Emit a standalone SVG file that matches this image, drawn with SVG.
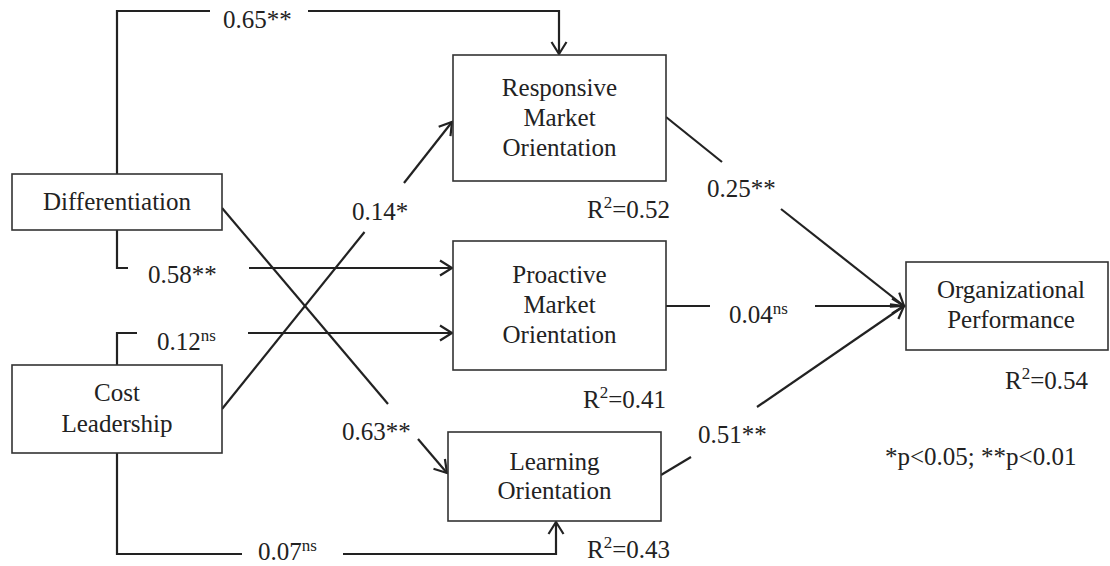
<svg xmlns="http://www.w3.org/2000/svg" width="1110" height="566" viewBox="0 0 1110 566">
<style>
  .box{fill:#fff;stroke:#333;stroke-width:1.6}
  .t{font-family:"Liberation Serif","Times New Roman",serif;font-size:25px;fill:#222}
  .c{text-anchor:middle}
  .ln{fill:none;stroke:#222;stroke-width:2.2}
  .sup{font-size:17px}
</style>
<defs>
  <marker id="ah" markerUnits="userSpaceOnUse" markerWidth="16" markerHeight="18" refX="13" refY="9" orient="auto">
    <path d="M1,1.5 L13,9 L1,16.5" fill="none" stroke="#222" stroke-width="2.2"/>
  </marker>
</defs>
<rect width="1110" height="566" fill="#fff"/>
<g id="connectors">
  <path class="ln" d="M117,174 V11 H210"/>
  <path class="ln" d="M308,11 H559 V54" marker-end="url(#ah)"/>
  <path class="ln" d="M117,230 V268 H128"/>
  <path class="ln" d="M249,268 H452" marker-end="url(#ah)"/>
  <path class="ln" d="M117,365 V333 H137"/>
  <path class="ln" d="M248,333 H452" marker-end="url(#ah)"/>
  <path class="ln" d="M117,453 V554 H242"/>
  <path class="ln" d="M343,554 H556 V522" marker-end="url(#ah)"/>
  <path class="ln" d="M222,409 L364.5,232"/>
  <path class="ln" d="M404,183 L452,122" marker-end="url(#ah)"/>
  <path class="ln" d="M222,208 L388,404"/>
  <path class="ln" d="M418,439 L447,473" marker-end="url(#ah)"/>
  <path class="ln" d="M666,117 L722,162"/>
  <path class="ln" d="M781,209 L904,306" marker-end="url(#ah)"/>
  <path class="ln" d="M666,306 H710"/>
  <path class="ln" d="M815,306 H904" marker-end="url(#ah)"/>
  <path class="ln" d="M661,475 L691,457"/>
  <path class="ln" d="M757,407 L904,306" marker-end="url(#ah)"/>
  <text class="t" x="223" y="28">0.65**</text>
  <text class="t" x="148" y="283">0.58**</text>
  <text class="t" x="157" y="350">0.12<tspan class="sup" dy="-9">ns</tspan></text>
  <text class="t" x="258" y="560">0.07<tspan class="sup" dy="-9">ns</tspan></text>
  <text class="t" x="352" y="220">0.14*</text>
  <text class="t" x="342" y="440">0.63**</text>
  <text class="t" x="707" y="197">0.25**</text>
  <text class="t" x="729" y="323">0.04<tspan class="sup" dy="-9">ns</tspan></text>
  <text class="t" x="698" y="443">0.51**</text>
</g>
<g id="differentiation">
  <rect class="box" x="12" y="174" width="210" height="56"/>
  <text class="t c" x="117" y="210">Differentiation</text>
</g>
<g id="cost-leadership">
  <rect class="box" x="12" y="365" width="210" height="88"/>
  <text class="t c" x="117" y="401">Cost</text>
  <text class="t c" x="117" y="432">Leadership</text>
</g>
<g id="responsive">
  <rect class="box" x="453" y="55" width="213" height="126"/>
  <text class="t c" x="559.5" y="96">Responsive</text>
  <text class="t c" x="559.5" y="126">Market</text>
  <text class="t c" x="559.5" y="156">Orientation</text>
  <text class="t" x="587" y="218">R<tspan class="sup" dy="-10">2</tspan><tspan dy="10">=0.52</tspan></text>
</g>
<g id="proactive">
  <rect class="box" x="453" y="241" width="213" height="129"/>
  <text class="t c" x="559.5" y="283">Proactive</text>
  <text class="t c" x="559.5" y="313">Market</text>
  <text class="t c" x="559.5" y="343">Orientation</text>
  <text class="t" x="583" y="408">R<tspan class="sup" dy="-10">2</tspan><tspan dy="10">=0.41</tspan></text>
</g>
<g id="learning">
  <rect class="box" x="448" y="432" width="213" height="89"/>
  <text class="t c" x="554.5" y="470">Learning</text>
  <text class="t c" x="554.5" y="499">Orientation</text>
  <text class="t" x="587" y="558">R<tspan class="sup" dy="-10">2</tspan><tspan dy="10">=0.43</tspan></text>
</g>
<g id="performance">
  <rect class="box" x="906" y="262" width="202" height="88"/>
  <text class="t c" x="1011" y="298">Organizational</text>
  <text class="t c" x="1011" y="328">Performance</text>
  <text class="t" x="1005" y="389">R<tspan class="sup" dy="-10">2</tspan><tspan dy="10">=0.54</tspan></text>
</g>
<text class="t" x="885" y="465">*p&lt;0.05; **p&lt;0.01</text>
</svg>
